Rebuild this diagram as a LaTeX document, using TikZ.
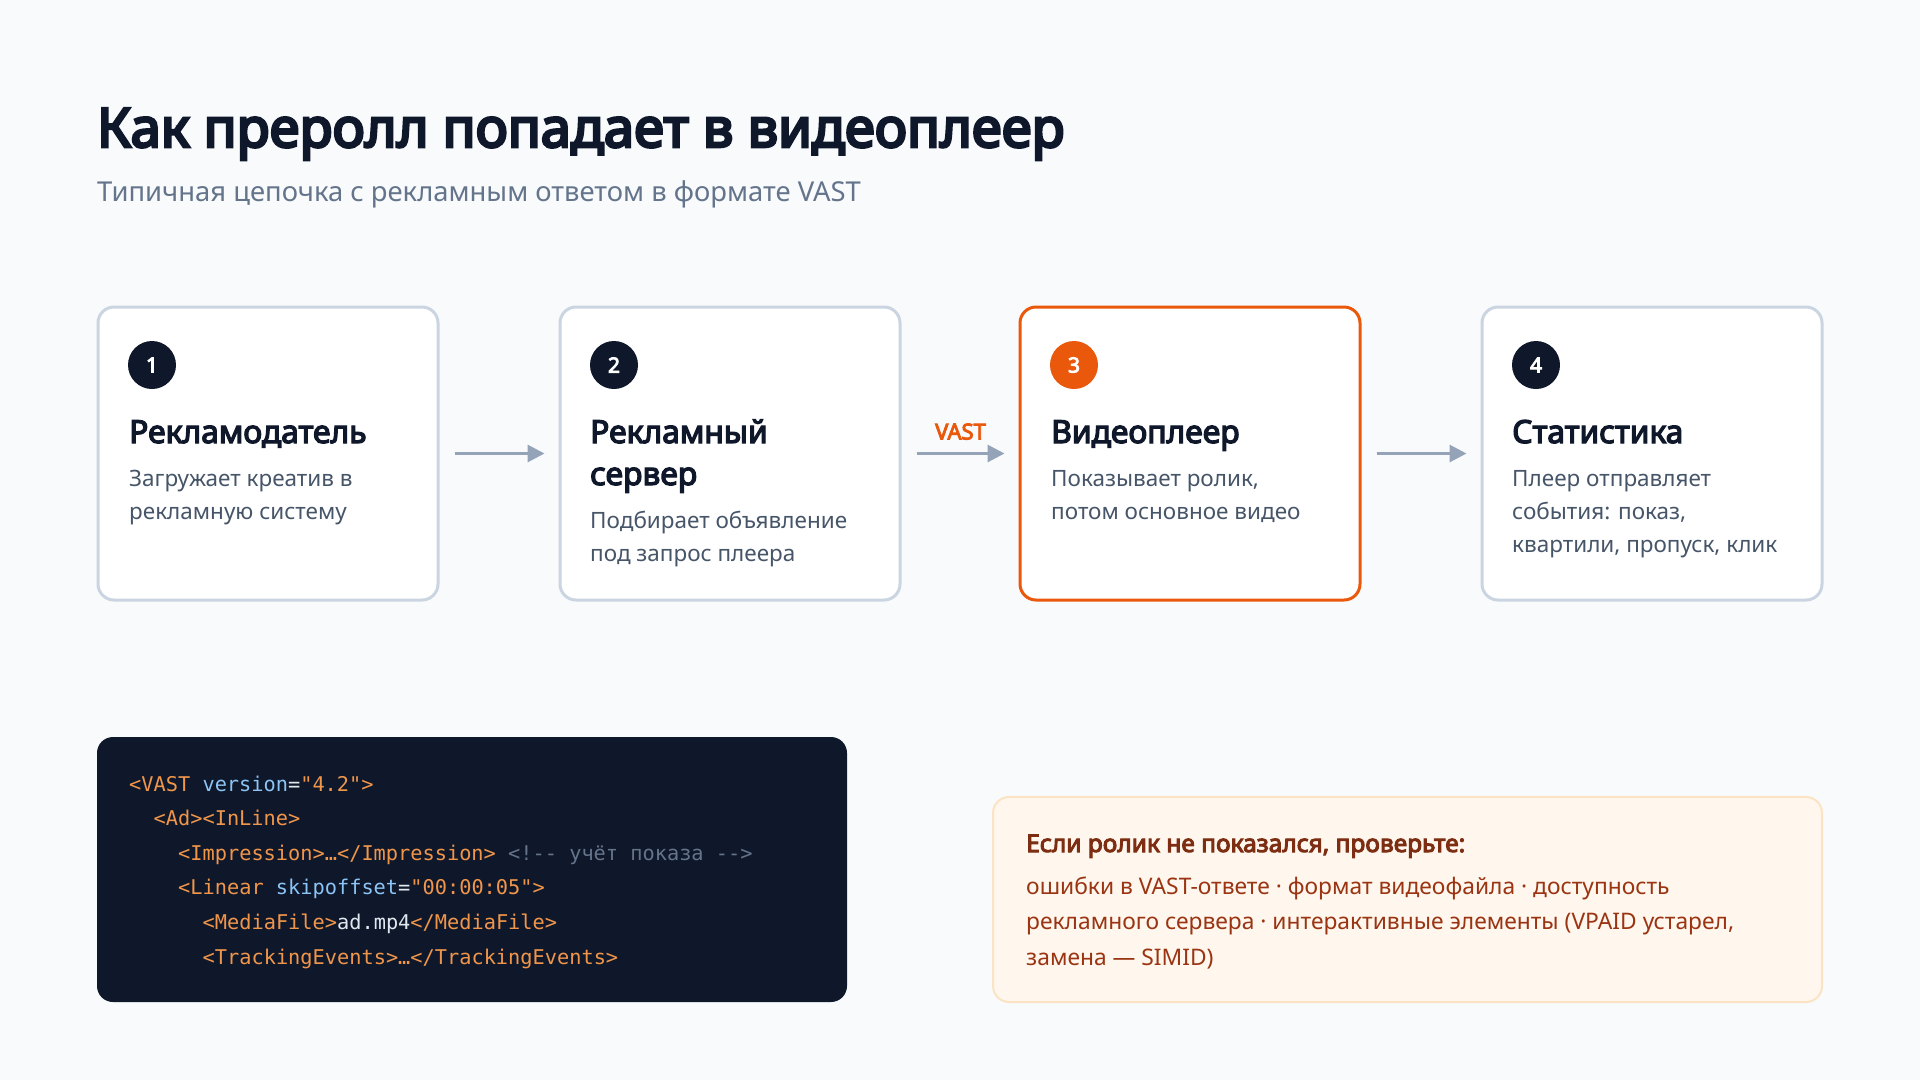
\documentclass[tikz,border=0pt]{standalone}
\usepackage{fontspec}
\setmainfont{Noto Sans}[BoldFont={Noto Sans}, BoldFeatures={FakeBold=4}]
\newfontfamily\titlefont{Noto Sans}[FakeBold=5]
\newfontfamily\codefont{DejaVu Sans Mono}
\usetikzlibrary{arrows.meta}
\definecolor{bg}{HTML}{F8FAFC}
\definecolor{ink}{HTML}{0F172A}
\definecolor{muted}{HTML}{64748B}
\definecolor{desc}{HTML}{475569}
\definecolor{border}{HTML}{CBD5E1}
\definecolor{accent}{HTML}{EA580C}
\definecolor{arrowc}{HTML}{94A3B8}
\definecolor{codebg}{HTML}{0F172A}
\definecolor{ctag}{HTML}{F0964A}
\definecolor{cattr}{HTML}{8CC4F5}
\definecolor{ctext}{HTML}{E2E8F0}
\definecolor{ccom}{HTML}{64748B}
\definecolor{notebg}{HTML}{FFF7ED}
\definecolor{noteborder}{HTML}{FCE3C4}
\definecolor{notetitle}{HTML}{7C2D12}
\definecolor{notetext}{HTML}{9A3412}
\tikzset{
  stepbox/.style={draw=border, line width=3pt, fill=white, rounded corners=16pt,
    minimum width=340pt, minimum height=293pt, inner sep=0pt},
  hibox/.style={stepbox, draw=accent},
  numcirc/.style={circle, fill=ink, minimum size=48pt, inner sep=0pt, text=white,
    font=\fontsize{21}{24}\selectfont\bfseries},
  hicirc/.style={numcirc, fill=accent},
  boxtitle/.style={anchor=base west, inner sep=0pt, text=ink,
    font=\fontsize{31.8}{42}\selectfont\bfseries, align=left},
  boxdesc/.style={anchor=base west, inner sep=0pt, text=desc,
    font=\fontsize{22.5}{33}\selectfont, align=left},
  arr/.style={draw=arrowc, line width=3pt, -{Triangle[length=17pt,width=17pt]}},
  codeline/.style={anchor=base west, inner sep=0pt, font=\fontsize{20.3}{24}\codefont},
}
\newcommand{\tg}[1]{\textcolor{ctag}{#1}}
\newcommand{\at}[1]{\textcolor{cattr}{#1}}
\newcommand{\tx}[1]{\textcolor{ctext}{#1}}
\newcommand{\cm}[1]{\textcolor{ccom}{#1}}
\begin{document}
\begin{tikzpicture}[x=1pt,y=-1pt]
\fill[bg] (0,0) rectangle (1920,1080);
\useasboundingbox (0,0) rectangle (1920,1080);

% title
\node[anchor=base west, inner sep=0pt, text=ink, font=\fontsize{54.3}{60}\titlefont] (title) at (97,147) {Как преролл попадает в видеоплеер};
\node[anchor=base west, inner sep=0pt, text=muted, font=\fontsize{27.4}{32}\selectfont] (subtitle) at (97,201) {Типичная цепочка с рекламным ответом в формате VAST};

% boxes
\node[stepbox] (b1) at (268,453.5) {};
\node[stepbox] (b2) at (730,453.5) {};
\node[hibox]   (b3) at (1190,453.5) {};
\node[stepbox] (b4) at (1652,453.5) {};

\node[numcirc] (c1) at (152,365) {1};
\node[numcirc] (c2) at (614,365) {2};
\node[hicirc]  (c3) at (1074,365) {3};
\node[numcirc] (c4) at (1536,365) {4};

% (base anchor of a multi-line node = baseline of its last line)
\node[boxtitle] (t1) at (129,443) {Рекламодатель};
\node[boxdesc]  (d1) at (129,519) {Загружает креатив в\\рекламную систему};

\node[boxtitle] (t2) at (590,485) {Рекламный\\сервер};
\node[boxdesc]  (d2) at (590,561) {Подбирает объявление\\под запрос плеера};

\node[boxtitle] (t3) at (1051,443) {Видеоплеер};
\node[boxdesc]  (d3) at (1051,519) {Показывает ролик,\\потом основное видео};

\node[boxtitle] (t4) at (1512,443) {Статистика};
\node[boxdesc]  (d4) at (1512,552) {Плеер отправляет\\события: показ,\\квартили, пропуск, клик};

% arrows
\draw[arr] ([xshift=15pt]b1.east) -- ([xshift=-14pt]b2.west);
\draw[arr] ([xshift=15pt]b2.east) -- node[above=9pt, text=accent, font=\fontsize{22}{24}\selectfont\bfseries] (vast) {VAST} ([xshift=-14pt]b3.west);
\draw[arr] ([xshift=15pt]b3.east) -- ([xshift=-14pt]b4.west);

% code block
\node[fill=codebg, rounded corners=16pt, minimum width=750pt, minimum height=265pt, inner sep=0pt] (code) at (472,869.5) {};
\node[codeline] (l1) at (129,791) {\tg{<VAST} \at{version}\tx{=}\tg{"4.2">}};
\node[codeline] (l2) at (153.5,825.5) {\tg{<Ad><InLine>}};
\node[codeline] (l3) at (178,860) {\tg{<Impression>…</Impression>} \cm{<!-\kern0pt- учёт показа -\kern0pt->}};
\node[codeline] (l4) at (178,894.5) {\tg{<Linear} \at{skipoffset}\tx{=}\tg{"00:00:05">}};
\node[codeline] (l5) at (202.5,929) {\tg{<MediaFile>}\tx{ad.mp4}\tg{</MediaFile>}};
\node[codeline] (l6) at (202.5,964) {\tg{<TrackingEvents>…</TrackingEvents>}};

% note
\node[draw=noteborder, line width=2pt, fill=notebg, rounded corners=16pt, minimum width=829pt, minimum height=205pt, inner sep=0pt] (note) at (1407.5,899.5) {};
\node[anchor=base west, inner sep=0pt, text=notetitle, font=\fontsize{24.5}{28}\selectfont\bfseries] (nt) at (1026,852) {Если ролик не показался, проверьте:};
\node[anchor=base west, inner sep=0pt, text=notetext, font=\fontsize{22.8}{35.5}\selectfont, align=left] (nb) at (1026,965) {ошибки в VAST-ответе · формат видеофайла · доступность\\рекламного сервера · интерактивные элементы (VPAID устарел,\\замена — SIMID)};
\end{tikzpicture}
\end{document}
